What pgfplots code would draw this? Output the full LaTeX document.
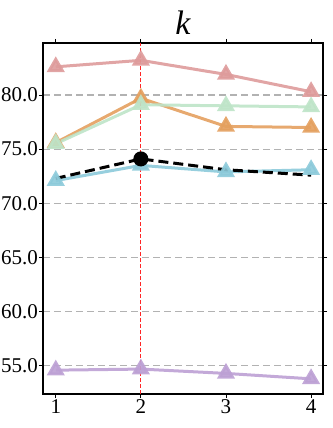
\documentclass[border=0pt]{standalone}
\usepackage{pgfplots}
\pgfplotsset{compat=1.18}
\usepackage{fontspec}
\setmainfont{Liberation Serif}
\definecolor{cred}{RGB}{222,155,155}
\definecolor{corange}{RGB}{228,160,95}
\definecolor{cgreen}{RGB}{190,228,200}
\definecolor{cblue}{RGB}{140,202,218}
\definecolor{cpurple}{RGB}{188,160,212}
\begin{document}
\begin{tikzpicture}
\begin{axis}[
  name=ax,
  scale only axis, width=280pt, height=351pt,
  xmin=0.85, xmax=4.14, ymin=52.4, ymax=84.8,
  xtick={1,2,3,4}, ytick={55,60,65,70,75,80},
  xticklabels={1,2,3,4},
  yticklabels={55.0,60.0,65.0,70.0,75.0,80.0},
  tick label style={font=\fontsize{21}{21}\selectfont, inner sep=1pt},
  tick align=outside, tick style={black, line width=0.8pt}, major tick length=4pt,
  axis line style={line width=1.8pt},
  ymajorgrids, grid style={black!30, dash pattern=on 7pt off 4pt, line width=1.3pt},
  title={\fontsize{34}{34}\selectfont\itshape k}, title style={yshift=-1pt},
  every axis plot/.append style={line width=3pt, mark=triangle*, mark size=7.5pt, opacity=0.9},
]
\addplot[cred] coordinates {(1,82.6)(2,83.2)(3,81.9)(4,80.3)};
\addplot[corange] coordinates {(1,75.6)(2,79.7)(3,77.1)(4,77.0)};
\addplot[cgreen] coordinates {(1,75.5)(2,79.1)(3,79.0)(4,78.9)};
\addplot[cblue] coordinates {(1,72.1)(2,73.5)(3,72.9)(4,73.1)};
\addplot[cpurple] coordinates {(1,54.6)(2,54.7)(3,54.3)(4,53.8)};
\addplot[black, dash pattern=on 10pt off 5pt, line width=3pt, mark=none, opacity=1] coordinates {(1,72.3)(2,74.1)(3,73.1)(4,72.6)};
\addplot[black, only marks, mark=*, mark size=6pt, opacity=1] coordinates {(2,74.1)};
\addplot[red!85!white, dash pattern=on 4pt off 2pt, line width=0.8pt, mark=none, opacity=1] coordinates {(2,52.4)(2,84.8)};
\end{axis}
\pgfresetboundingbox
\path ([shift={(-43pt,-34pt)}]ax.south west) rectangle ([shift={(9pt,43pt)}]ax.north east);
\end{tikzpicture}
\end{document}
